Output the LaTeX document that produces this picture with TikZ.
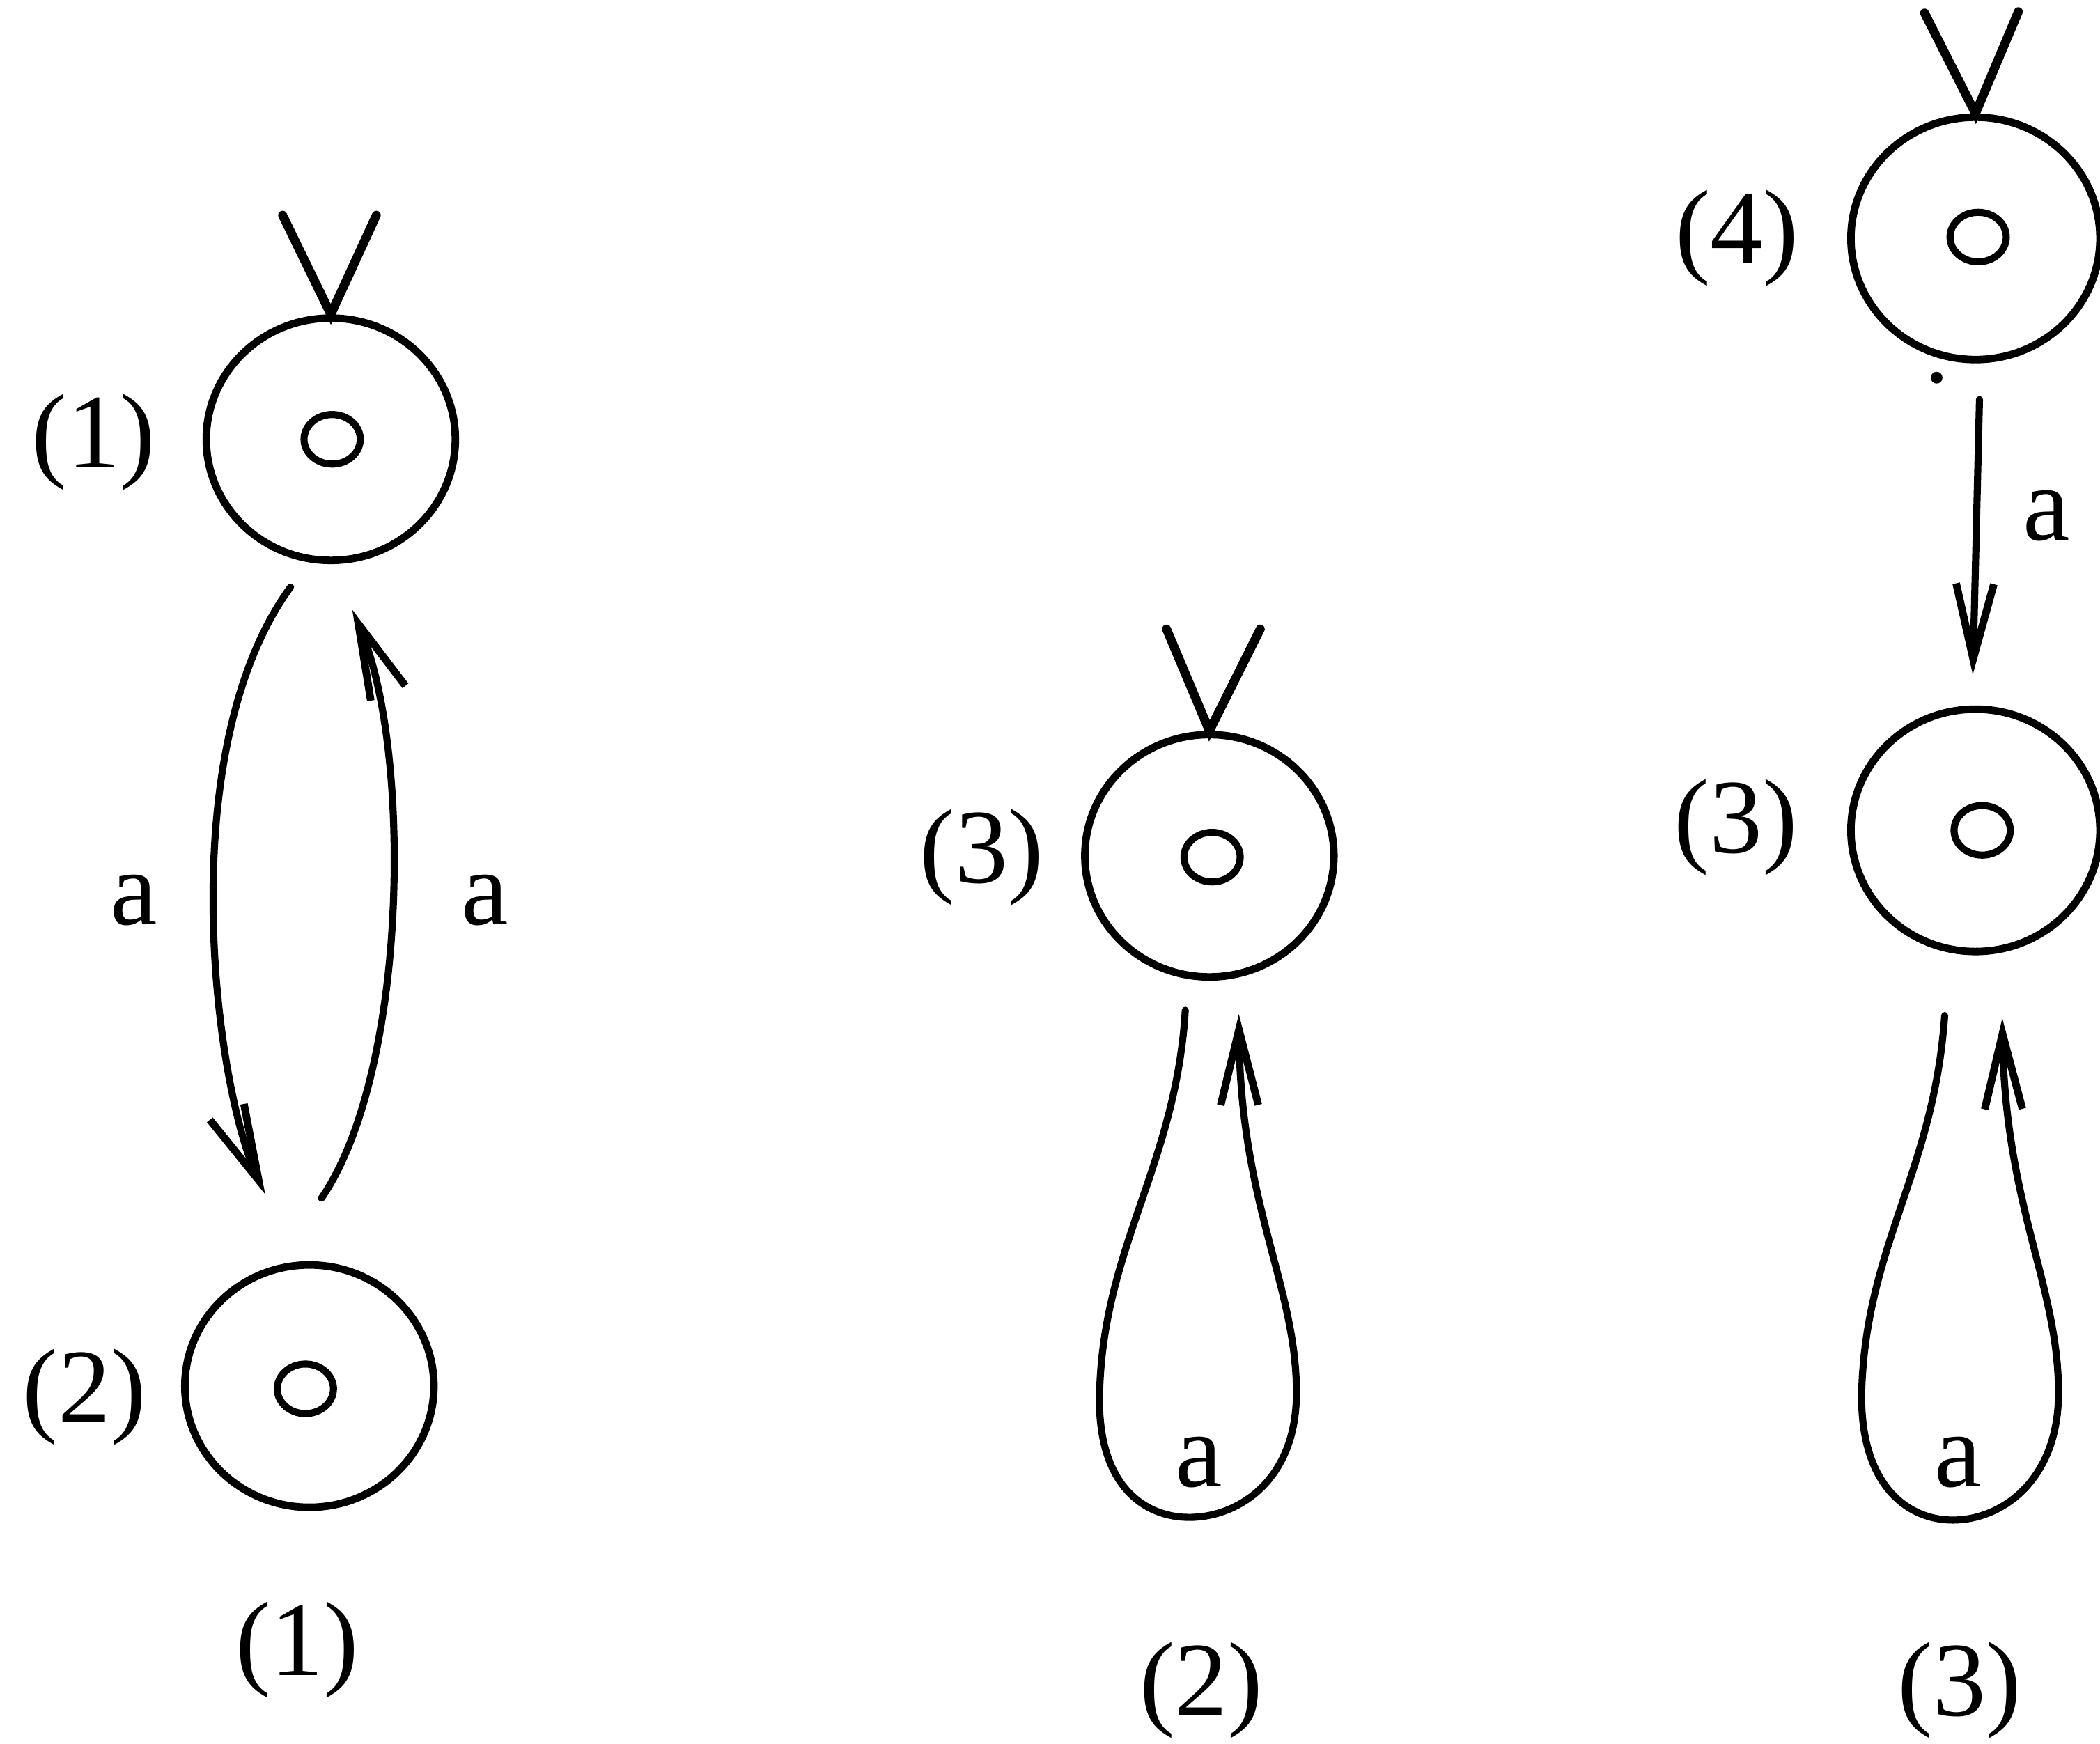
\documentclass[tikz,border=0pt]{standalone}
\usepackage{fontspec}
\setmainfont{Liberation Serif}
\usetikzlibrary{shapes.geometric,arrows.meta,calc}
\begin{document}
\begin{tikzpicture}[x=0.02cm,y=-0.02cm,
  state/.style={ellipse,draw,line width=3.2pt,minimum width=3.72cm,minimum height=3.62cm,inner sep=0pt},
  dotc/.style={ellipse,draw,line width=3pt,minimum width=0.84cm,minimum height=0.74cm,inner sep=0pt},
  lbl/.style={font=\fontsize{45}{54}\selectfont,inner sep=0pt},
  edge/.style={line width=3pt,line cap=round,-{Straight Barb[length=32pt,width=16pt,line width=3.2pt]}},
  initv/.style={line width=3.8pt,line cap=round,line join=miter}]
\useasboundingbox (0,0) rectangle (1568,1302);
% states
\node[state] (c1) at (247,328) {};
\node[dotc] (d1) at (248,328) {};
\node[state] (c2) at (231,1035) {};
\node[dotc] (d2) at (228,1037) {};
\node[state] (c3) at (903,639) {};
\node[dotc] (d3) at (905,640) {};
\node[state] (c4) at (1475,178) {};
\node[dotc] (d4) at (1477,177) {};
\node[state] (c5) at (1475,620) {};
\node[dotc] (d5) at (1480,620) {};
% state labels
\node[lbl] (l1) at (70,330) {(1)};
\node[lbl] (l2) at (63,1043) {(2)};
\node[lbl] (l3) at (733,640) {(3)};
\node[lbl] (l4) at (1297,178) {(4)};
\node[lbl] (l5) at (1296,618) {(3)};
% captions
\node[lbl] (cap1) at (222,1232) {(1)};
\node[lbl] (cap2) at (897,1262) {(2)};
\node[lbl] (cap3) at (1463,1262) {(3)};
% edge labels
\node[lbl] (a1) at (100,672) {a};
\node[lbl] (a2) at (362,672) {a};
\node[lbl] (a3) at (895,1092) {a};
\node[lbl] (a4) at (1528,385) {a};
\node[lbl] (a5) at (1462,1092) {a};
% stray dot
\node[circle,fill,inner sep=0pt,minimum size=5pt] (dot) at (1446,282) {};
% initial marks
\coordinate (v1a) at ($(c1.north)+(-36,-74)$);
\coordinate (v1b) at ($(c1.north)+(34,-74)$);
\draw[initv] (v1a) -- (c1.north) -- (v1b);
\coordinate (v3a) at ($(c3.north)+(-32,-76)$);
\coordinate (v3b) at ($(c3.north)+(38,-76)$);
\draw[initv] (v3a) -- (c3.north) -- (v3b);
\coordinate (v4a) at ($(c4.north)+(-38,-75)$);
\coordinate (v4b) at ($(c4.north)+(32,-76)$);
\draw[initv] (v4a) -- (c4.north) -- (v4b);
% diagram 1 edges
\draw[edge] ($(c1.south)+(-30,17)$) .. controls (128,560) and (160,810) .. ($(c2.north)+(-33,-50)$);
\draw[edge] ($(c2.north)+(9,-47)$) .. controls (305,800) and (308,560) .. ($(c1.south)+(16,34)$);
% diagram 2 loop
\draw[edge] ($(c3.south)+(-18,22)$) .. controls (878,870) and (824,930) .. (821,1040)
  .. controls (819,1110) and (855,1133) .. (888,1133)
  .. controls (925,1133) and (968,1105) .. (968,1040)
  .. controls (968,960) and (926,900) .. ($(c3.south)+(22,25)$);
% diagram 3
\draw[edge] ($(c4.south)+(3,27)$) -- ($(c5.north)+(-2,-23)$);
\draw[edge] ($(c5.south)+(-23,45)$) .. controls (1444,875) and (1393,930) .. (1390,1040)
  .. controls (1389,1110) and (1425,1135) .. (1458,1135)
  .. controls (1495,1135) and (1537,1105) .. (1537,1040)
  .. controls (1537,960) and (1497,900) .. ($(c5.south)+(20,47)$);
\end{tikzpicture}
\end{document}
